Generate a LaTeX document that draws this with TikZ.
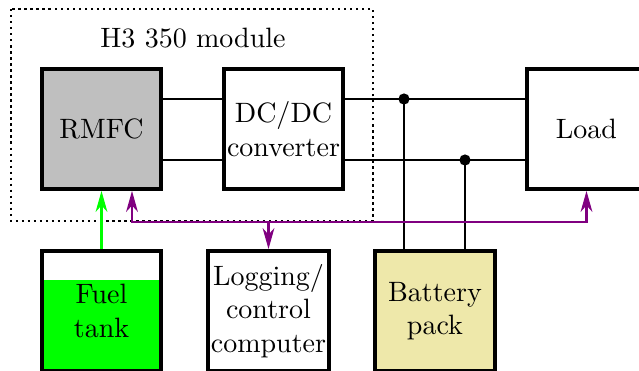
\documentclass[tikz,border=0pt]{standalone}
\usepackage{mathpazo}
\usepackage{tikz}
\usetikzlibrary{positioning,arrows.meta}

\definecolor{battfill}{RGB}{238,232,170}
\tikzset{
	arr/.tip={Stealth[length=7.5pt, width=4.2pt, inset=2.3pt]},
	blk/.style={draw, line width=1.4pt, minimum width=42.8pt, minimum height=42.8pt, align=center, inner sep=1pt},
	wire/.style={line width=0.7pt},
	ctrl/.style={violet, line width=0.8pt},
	modframe/.style={line width=0.85pt, dash pattern=on 0.85pt off 1.3pt}
}

\begin{document}
\begin{tikzpicture}[x=0.357pt, y=-0.357pt]
	\useasboundingbox (0,0) rectangle (639,371);

	\draw[modframe] (11,9) rectangle (373,221);
	\node (modlbl) at (193,38) {H3 350 module};

	\node[blk, fill=lightgray] (rmfc) at (101.5,129) {RMFC};
	\node[blk] (dcdc) at (283.5,129) {DC/DC\\converter};
	\node[blk] (load) at (586.5,129) {Load};

	\node[blk, path picture={\fill[green] ([yshift=-10.2pt]path picture bounding box.north west) rectangle (path picture bounding box.south east);}] (fuel) at (101.5,311) {Fuel\\tank};
	\node[blk] (logging) at (268.5,311) {Logging/\\control\\computer};
	\node[blk, fill=battfill] (batt) at (435,311) {Battery\\pack};

	\coordinate (jtop) at (404,99);
	\coordinate (jbot) at (465,160);
	\draw[wire] (rmfc.east |- jtop) -- (dcdc.west |- jtop);
	\draw[wire] (rmfc.east |- jbot) -- (dcdc.west |- jbot);
	\draw[wire] (dcdc.east |- jtop) -- (load.west |- jtop);
	\draw[wire] (dcdc.east |- jbot) -- (load.west |- jbot);
	\draw[wire] (jtop) -- (jtop |- batt.north);
	\draw[wire] (jbot) -- (jbot |- batt.north);
	\fill (jtop) circle (2pt);
	\fill (jbot) circle (2pt);

	\draw[green, line width=0.8pt, -arr] (fuel.north) -- (rmfc.south);

	\coordinate (busl) at (132,222);
	\coordinate (busr) at (586.5,222);
	\draw[ctrl, arr-arr] (busl |- rmfc.south) -- (busl) -- (busr) -- (load.south);
	\draw[ctrl, -arr] (logging.north |- busl) -- (logging.north);
\end{tikzpicture}
\end{document}
